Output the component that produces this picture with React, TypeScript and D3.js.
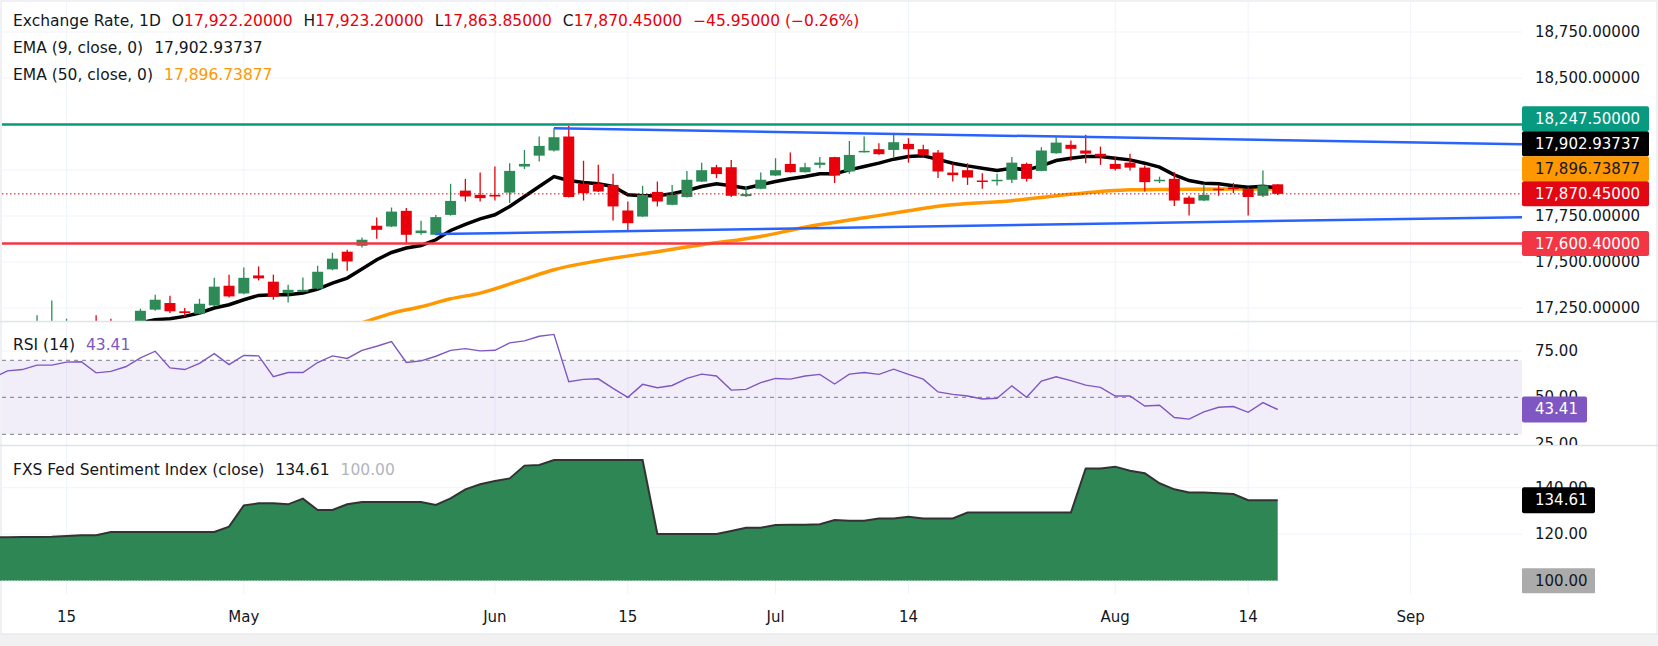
import React from 'react'
import * as d3 from 'd3'

// daily bars, first entry is the bar just left of the visible area (bar -1 .. 86)
const opens = [
  17090, 17110, 17140, 17120, 17130, 17140, 17165, 17165, 17160, 17140, 17150,
  17241, 17277, 17232, 17219, 17264, 17371, 17329, 17427, 17393, 17331,
  17338, 17355, 17460, 17556, 17588, 17697, 17693, 17778, 17657, 17648,
  17756, 17888, 17865, 17865, 17877, 18019, 18078, 18106, 18182, 17925,
  17925, 17919, 17780, 17747, 17881, 17811, 17853, 17937, 18015, 18015,
  17858, 17898, 17970, 18033, 17988, 18028, 18070, 17992, 18099, 18113,
  18109, 18142, 18113, 18095, 17986, 17999, 17943, 17941, 17947, 18033,
  17995, 18091, 18137, 18106, 18088, 18033, 18040, 18013, 17941, 17952,
  17850, 17834, 17898, 17905, 17896, 17860, 17922.2,
]
const highs = [
  17130, 17160, 17165, 17210, 17291, 17192, 17172, 17210, 17192, 17170, 17246,
  17322, 17317, 17250, 17300, 17414, 17431, 17470, 17476, 17431, 17376,
  17416, 17480, 17550, 17566, 17633, 17742, 17796, 17794, 17724, 17756,
  17925, 17952, 17986, 18019, 18037, 18109, 18182, 18227, 18240, 18050,
  18028, 17979, 17829, 17914, 17937, 17919, 17995, 18040, 18028, 18055,
  17910, 17986, 18064, 18095, 18040, 18070, 18072, 18158, 18182, 18146,
  18191, 18173, 18137, 18109, 18037, 18037, 17983, 17979, 18070, 18040,
  18124, 18178, 18160, 18191, 18127, 18073, 18088, 18024, 17964, 17988,
  17860, 17925, 17919, 17929, 17907, 17997, 17923.2,
]
const lows = [
  17060, 17090, 17100, 17100, 17110, 17120, 17120, 17110, 17120, 17110, 17130,
  17235, 17223, 17204, 17215, 17260, 17307, 17325, 17400, 17295, 17280,
  17335, 17350, 17455, 17452, 17579, 17626, 17690, 17599, 17648, 17645,
  17752, 17829, 17829, 17834, 17821, 18005, 18046, 18100, 17850, 17834,
  17880, 17726, 17666, 17745, 17802, 17808, 17850, 17935, 17956, 17853,
  17853, 17895, 17967, 17986, 17986, 18010, 17929, 17979, 18095, 18083,
  18064, 18040, 18073, 17957, 17937, 17919, 17898, 17916, 17929, 17937,
  17993, 18088, 18050, 18037, 18028, 17997, 17997, 17883, 17929, 17805,
  17753, 17832, 17860, 17874, 17753, 17853, 17863.85,
]
const closes = [
  17110, 17140, 17120, 17160, 17165, 17170, 17150, 17130, 17140, 17150, 17235,
  17295, 17232, 17223, 17273, 17366, 17313, 17414, 17411, 17311, 17349,
  17349, 17447, 17518, 17503, 17621, 17675, 17774, 17648, 17671, 17744,
  17832, 17856, 17847, 17856, 17995, 18033, 18131, 18178, 17853, 17874,
  17883, 17802, 17711, 17865, 17829, 17865, 17947, 17999, 17978, 17860,
  17869, 17947, 17999, 17988, 18015, 18040, 17970, 18082, 18104, 18086,
  18151, 18113, 18082, 17992, 17972, 17959, 17937, 17947, 18040, 17952,
  18106, 18149, 18115, 18089, 18073, 18006, 18013, 17934, 17947, 17834,
  17816, 17865, 17892, 17896, 17853, 17916.4, 17870.45,
]

const rsi14 = [
  60.5,
  64.3, 65.0, 67.4, 67.4, 69.0, 69.2, 63.2, 64.0, 66.5, 71.3,
  74.9, 65.9, 65.0, 68.3, 73.6, 67.7, 72.6, 72.4, 61.1, 63.4,
  63.4, 68.8, 72.4, 71.0, 75.4, 77.6, 80.1, 68.8, 69.7, 72.2,
  75.4, 76.3, 75.1, 75.4, 79.4, 80.5, 83.0, 84.0, 58.4, 59.7,
  60.0, 54.8, 50.0, 57.0, 55.2, 56.4, 60.2, 62.5, 61.5, 53.9,
  54.3, 57.9, 60.2, 59.8, 61.5, 62.4, 57.2, 62.5, 63.4, 62.4,
  65.2, 62.4, 59.8, 52.9, 51.6, 50.7, 49.1, 49.5, 56.2, 50.0,
  58.8, 61.1, 59.0, 56.6, 55.4, 50.7, 50.7, 45.3, 45.7, 39.1,
  38.2, 42.1, 44.6, 45.0, 41.9, 47.1, 43.41,
]

const fedIndex = [
  118.66,
  118.66, 118.8, 118.8, 118.94, 119.23, 119.52, 119.52, 120.95, 120.95, 120.95,
  120.95, 120.95, 120.95, 120.95, 120.95, 123.24, 132.4, 133.28, 133.28, 132.85,
  135.29, 130.4, 130.4, 132.85, 133.85, 133.85, 133.85, 133.85, 133.85, 132.56,
  135.43, 139.3, 141.45, 142.9, 144.0, 149.5, 149.8, 151.9, 151.9, 151.9,
  151.9, 151.9, 151.9, 151.9, 120.1, 120.1, 120.1, 120.1, 120.1, 121.4,
  122.8, 122.8, 123.96, 124.1, 124.1, 124.25, 126.1, 125.8, 125.8, 126.7,
  126.8, 127.5, 126.8, 126.8, 126.8, 129.3, 129.3, 129.3, 129.3, 129.3,
  129.3, 129.3, 129.3, 148.3, 148.3, 149.05, 147.3, 146.2, 141.9, 139.3,
  137.9, 137.9, 137.6, 137.3, 134.61, 134.61, 134.61,
]

// EMA 9 from bar 8 on (below the pane before that)
const ema9Start = 8
const ema9 = [
  17154, 17170, 17186.4, 17191.9, 17204.4, 17222.8, 17250, 17267.9, 17295, 17318.4,
  17322.2, 17322.2, 17331.4, 17353.1, 17385.7, 17412.8, 17461.6, 17512.2, 17551.8, 17575.7,
  17589.8, 17620.8, 17671.3, 17704.9, 17734.8, 17756.5, 17801.6, 17855.9, 17910.1, 17964.4,
  17942.7, 17931.9, 17924.8, 17910.1, 17865.1, 17859.7, 17859.7, 17870.5, 17888.4, 17910.1,
  17924.8, 17913.9, 17901.4, 17919.4, 17937.3, 17951.9, 17964.4, 17979.1, 17979.1, 18000.8,
  18018.7, 18037.1, 18058.9, 18073, 18076.8, 18057.8, 18037.1, 18022.5, 18010, 17997,
  18010, 18000.8, 18022.5, 18051.3, 18064.3, 18073, 18073, 18064.3, 18055.1, 18037.1,
  18015.4, 17973.6, 17942.7, 17928.6, 17924.8, 17913.9, 17906.9, 17912, 17902.93737,
]
const ema50Bars = [20, 24, 26, 28, 30, 32, 35, 37, 40, 44, 47, 51, 54, 58, 61, 63, 68, 72, 76, 80, 86]
const ema50 = [
  17105, 17170, 17221, 17257, 17300, 17331, 17407, 17458, 17507, 17556, 17594,
  17639, 17689, 17740, 17778, 17803, 17833, 17868, 17892, 17896, 17896.73877,
]

const tickBars = [4, 16, 33, 42, 52, 61, 75, 84, 95]
const tickLabels = ['15', 'May', 'Jun', '15', 'Jul', '14', 'Aug', '14', 'Sep']
const priceTicks = [17250, 17500, 17750, 18000, 18250, 18500, 18750]
const rsiTicks = [25, 50, 75]
const rsiBands = [30, 50, 70]
const fedTicks = [120, 140]

const resistance = 18247.5
const support = 17600.4
const upperTrend = [[37, 18227], [86, 18162]]
const lowerTrend = [[29, 17652], [86, 17723]]

const UP = '#2e8b57'
const DOWN = '#e8000b'
const FONT = '"DejaVu Sans", sans-serif'
const TXT = '#131722'
const GRID = '#f0f3fa'

export default function App() {
  const W = 1658
  const H = 646
  const plotR = 1522
  const mainB = 321
  const rsiT = 322
  const rsiB = 445
  const fedT = 446
  const fedB = 594

  const x = d3.scaleLinear().domain([0, 86]).range([7.5, 1277.7])
  const yP = d3.scaleLinear().domain([17250, 18750]).range([308, 32])
  const yR = d3.scaleLinear().domain([30, 70]).range([434.3, 360.3])
  const yF = d3.scaleLinear().domain([100, 140]).range([580.7, 487.7])
  const bars = d3.range(-1, 87)
  const last = closes.length - 1

  const f5 = d3.format(',.5f')
  const f2 = d3.format('.2f')

  const ema9Line = d3
    .line<number>()
    .x((_, i) => x(ema9Start + i))
    .y(v => yP(v))(ema9)
  const ema50Line = d3
    .line<number>()
    .x((_, i) => x(ema50Bars[i]))
    .y(v => yP(v))
    .curve(d3.curveMonotoneX)(ema50)
  const rsiLine = d3
    .line<number>()
    .x((_, i) => x(bars[i]))
    .y(v => yR(v))(rsi14)
  const fedArea = d3
    .area<number>()
    .x((_, i) => x(bars[i]))
    .y0(yF(100))
    .y1(v => yF(v))(fedIndex)
  const fedLine = d3
    .line<number>()
    .x((_, i) => x(bars[i]))
    .y(v => yF(v))(fedIndex)

  const endBar = x.invert(plotR)
  const trend = (t: number[][]) => {
    const [[b1, v1], [b2, v2]] = t
    const v = (b: number) => v1 + ((v2 - v1) * (b - b1)) / (b2 - b1)
    return {x1: x(b1), y1: yP(v(b1)), x2: x(endBar), y2: yP(v(endBar))}
  }
  const up = trend(upperTrend)
  const lo = trend(lowerTrend)

  // right axis tags, pushed up so they do not overlap
  const tags = [
    {v: resistance, bg: '#089981', fg: '#fff'},
    {v: ema9[ema9.length - 1], bg: '#000', fg: '#fff'},
    {v: ema50[ema50.length - 1], bg: '#ff9800', fg: TXT},
    {v: closes[last], bg: '#e30613', fg: '#fff'},
    {v: support, bg: '#f23645', fg: '#fff'},
  ]
    .map(t => ({...t, y: yP(t.v)}))
    .sort((a, b) => a.y - b.y)
  for (let i = tags.length - 2; i >= 0; i--) {
    tags[i].y = Math.min(tags[i].y, tags[i + 1].y - 25)
  }
  // tick labels that sit fully under a tag are not shown
  const shownTicks = priceTicks.filter(t => tags.every(g => Math.abs(g.y - yP(t)) > 12))

  const change = closes[last] - closes[last - 1]
  const pct = (change / closes[last - 1]) * 100

  return (
    <svg
      width={W}
      height={H}
      style={{position: 'absolute', left: 0, top: 0, background: '#fff'}}
      fontFamily={FONT}>
      <defs>
        <clipPath id="cMain">
          <rect x={0} y={0} width={plotR} height={mainB} />
        </clipPath>
        <clipPath id="cRsi">
          <rect x={0} y={rsiT} width={plotR} height={rsiB - rsiT} />
        </clipPath>
        <clipPath id="cRsiAxis">
          <rect x={plotR} y={rsiT} width={W - plotR} height={rsiB - rsiT} />
        </clipPath>
        <clipPath id="cFed">
          <rect x={0} y={fedT} width={plotR} height={fedB - fedT} />
        </clipPath>
      </defs>
      <rect x={0} y={634} width={W} height={12} fill="#f1f1f1" />
      <rect x={1} y={1} width={W - 2} height={633} fill="none" stroke="#e0e3eb" />

      {/* grid */}
      {tickBars.map(b => (
        <line key={'vg' + b} x1={x(b)} x2={x(b)} y1={2} y2={fedB} stroke={GRID} />
      ))}
      {priceTicks.map(t => (
        <line key={'pg' + t} x1={2} x2={plotR} y1={yP(t)} y2={yP(t)} stroke={GRID} />
      ))}
      <line x1={2} x2={plotR} y1={yR(75)} y2={yR(75)} stroke={GRID} />
      {fedTicks.map(t => (
        <line key={'fg' + t} x1={2} x2={plotR} y1={yF(t)} y2={yF(t)} stroke={GRID} />
      ))}

      {/* main pane */}
      <g clipPath="url(#cMain)">
        <path d={ema50Line || ''} fill="none" stroke="#ff9800" strokeWidth={3.5} />
        <path d={ema9Line || ''} fill="none" stroke="#000" strokeWidth={3.5} />
        {bars.map((b, k) => {
          const o = opens[k]
          const c = closes[k]
          const col = c >= o ? UP : DOWN
          const cx = x(b)
          const yt = yP(Math.max(o, c))
          const yb = yP(Math.min(o, c))
          return (
            <g key={'c' + k}>
              <line x1={cx} x2={cx} y1={yP(highs[k])} y2={yP(lows[k])} stroke={col} strokeWidth={1.3} />
              <rect x={cx - 5.5} y={yt} width={11} height={Math.max(1.5, yb - yt)} fill={col} />
            </g>
          )
        })}
        <line x1={2} x2={plotR} y1={yP(closes[last])} y2={yP(closes[last])} stroke={DOWN} strokeWidth={1} strokeDasharray="1.5 2.5" />
        <line x1={2} x2={plotR} y1={yP(resistance)} y2={yP(resistance)} stroke="#089981" strokeWidth={2.5} />
        <line x1={2} x2={plotR} y1={yP(support)} y2={yP(support)} stroke="#f23645" strokeWidth={2.5} />
        <line {...up} stroke="#2962ff" strokeWidth={2.5} />
        <line {...lo} stroke="#2962ff" strokeWidth={2.5} />
      </g>

      {/* rsi pane */}
      <g clipPath="url(#cRsi)">
        <rect x={2} y={yR(70)} width={plotR - 2} height={yR(30) - yR(70)} fill="#7e57c2" fillOpacity={0.1} />
        {rsiBands.map(t => (
          <line key={'rb' + t} x1={2} x2={plotR} y1={yR(t)} y2={yR(t)} stroke="#787b86" strokeDasharray="4 4" />
        ))}
        <path d={rsiLine || ''} fill="none" stroke="#7e57c2" strokeWidth={1.4} />
      </g>

      {/* fed sentiment pane */}
      <g clipPath="url(#cFed)">
        <path d={fedArea || ''} fill="#2e8655" />
        <path d={fedLine || ''} fill="none" stroke="#333" strokeWidth={2} />
        <line x1={2} x2={x(86)} y1={yF(100)} y2={yF(100)} stroke="#a5d0b1" strokeDasharray="1.5 1.5" />
      </g>

      {/* pane separators */}
      <line x1={0} x2={W} y1={mainB + 0.5} y2={mainB + 0.5} stroke="#e0e3eb" strokeWidth={1.5} />
      <line x1={0} x2={W} y1={rsiB + 0.5} y2={rsiB + 0.5} stroke="#e0e3eb" strokeWidth={1.5} />

      {/* right axis */}
      <g fontSize={15} fill={TXT} dominantBaseline="central">
        {shownTicks.map(t => (
          <text key={'pt' + t} x={1535} y={yP(t)}>
            {f5(t)}
          </text>
        ))}
        {tags.map(t => (
          <g key={'tag' + t.v}>
            <rect x={plotR} y={t.y - 12.5} width={127} height={25} rx={2} fill={t.bg} />
            <text x={1535} y={t.y} fill={t.fg}>
              {f5(t.v)}
            </text>
          </g>
        ))}
        <g clipPath="url(#cRsiAxis)">
          {rsiTicks.map(t => (
            <text key={'rt' + t} x={1535} y={yR(t)}>
              {f2(t)}
            </text>
          ))}
        </g>
        <rect x={plotR} y={yR(rsi14[last]) - 13} width={65} height={26} rx={2} fill="#7e57c2" />
        <text x={1535} y={yR(rsi14[last])} fill="#fff">
          {f2(rsi14[last])}
        </text>
        {fedTicks.map(t => (
          <text key={'ft' + t} x={1535} y={yF(t)}>
            {f2(t)}
          </text>
        ))}
        <rect x={plotR} y={yF(fedIndex[last]) - 13} width={73} height={26} rx={2} fill="#000" />
        <text x={1535} y={yF(fedIndex[last])} fill="#fff">
          {f2(fedIndex[last])}
        </text>
        <rect x={plotR} y={yF(100) - 12.5} width={73} height={25} rx={1} fill="#ababab" />
        <text x={1535} y={yF(100)}>
          {f2(100)}
        </text>
      </g>

      {/* time axis */}
      <g fontSize={15} fill={TXT} textAnchor="middle" dominantBaseline="central">
        {tickBars.map((b, i) => (
          <text key={'xt' + i} x={x(b)} y={617}>
            {tickLabels[i]}
          </text>
        ))}
      </g>

      {/* legends */}
      <g fontSize={15.5} fill={TXT} dominantBaseline="central">
        <text x={13} y={21}>
          Exchange Rate, 1D
          <tspan dx={11}>O</tspan>
          <tspan fill={DOWN}>{f5(opens[last])}</tspan>
          <tspan dx={11}>H</tspan>
          <tspan fill={DOWN}>{f5(highs[last])}</tspan>
          <tspan dx={11}>L</tspan>
          <tspan fill={DOWN}>{f5(lows[last])}</tspan>
          <tspan dx={11}>C</tspan>
          <tspan fill={DOWN}>{f5(closes[last])}</tspan>
          <tspan dx={11} fill={DOWN}>
            {d3.format('.5f')(change)} ({'\u2212'}
            {d3.format('.2f')(Math.abs(pct))}%)
          </tspan>
        </text>
        <text x={13} y={48}>
          EMA (9, close, 0)
          <tspan dx={11}>{f5(ema9[ema9.length - 1])}</tspan>
        </text>
        <text x={13} y={75}>
          EMA (50, close, 0)
          <tspan dx={11} fill="#ff9800">
            {f5(ema50[ema50.length - 1])}
          </tspan>
        </text>
        <text x={13} y={345}>
          RSI (14)
          <tspan dx={11} fill="#7e57c2">
            {f2(rsi14[last])}
          </tspan>
        </text>
        <text x={13} y={470}>
          FXS Fed Sentiment Index (close)
          <tspan dx={11}>{f2(fedIndex[last])}</tspan>
          <tspan dx={11} fill="#b2b5be">
            {f2(100)}
          </tspan>
        </text>
      </g>
    </svg>
  )
}
